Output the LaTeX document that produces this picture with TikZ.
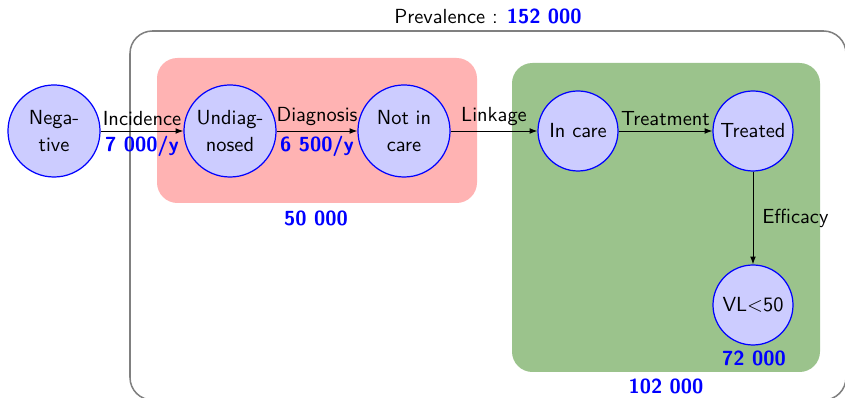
\documentclass[tikz,border=0pt]{standalone}
\usetikzlibrary{arrows.meta}
\definecolor{careGreen}{RGB}{155,195,140}
\definecolor{undiagPink}{RGB}{255,179,179}
\begin{document}
\begin{tikzpicture}[x=0.49pt,y=-0.49pt,font=\sffamily,
  state/.style={circle,draw=blue,fill=blue!20,line width=0.6pt,align=center,inner sep=1pt},
  bigstate/.style={state,minimum size=45.1pt},
  smallstate/.style={state,minimum size=39.2pt},
  num/.style={text=blue,font=\sffamily\bfseries},
  arr/.style={-{Latex[length=3.8pt,width=2.8pt]},line width=0.45pt},
  zone/.style={rounded corners=10pt}]
\clip (0,0) rectangle (845,398);
\useasboundingbox (0,0) rectangle (845,398);
% outer prevalence frame
\draw[gray,line width=0.75pt,rounded corners=11pt] (130,31) rectangle (846,400);
% zones
\fill[undiagPink,zone] (157,58) rectangle (477,203);
\fill[careGreen,zone] (512,63) rectangle (820,372);
% states
\node[bigstate] (neg) at (54,131) {Nega-\\[1pt]tive};
\node[bigstate] (und) at (230,131) {Undiag-\\[1pt]nosed};
\node[bigstate] (nic) at (404,131) {Not in\\[1pt]care};
\node[smallstate] (inc) at (578,131) {In care};
\node[smallstate] (trt) at (753,131) {Treated};
\node[smallstate] (vl) at (753,305) {VL$<$50};
% flows
\draw[arr] (neg) -- node[above=-1pt]{Incidence} node[below=-1pt,num]{7 000/y} (und);
\draw[arr] (und) -- node[above=-1pt]{Diagnosis} node[below=-1pt,num]{6 500/y} (nic);
\draw[arr] (nic) -- node[above=-1pt]{Linkage} (inc);
\draw[arr] (inc) -- node[above=-1pt]{Treatment} (trt);
\draw[arr] (trt) -- node[right=1pt]{Efficacy} (vl);
% counts
\node (prev) at (488,16) {Prevalence : \textcolor{blue}{\bfseries 152 000}};
\node[num] (c50) at (316,218) {50 000};
\node[num] (c102) at (666,386) {102 000};
\node[num] (c72) at (754,358) {72 000};
\end{tikzpicture}
\end{document}
